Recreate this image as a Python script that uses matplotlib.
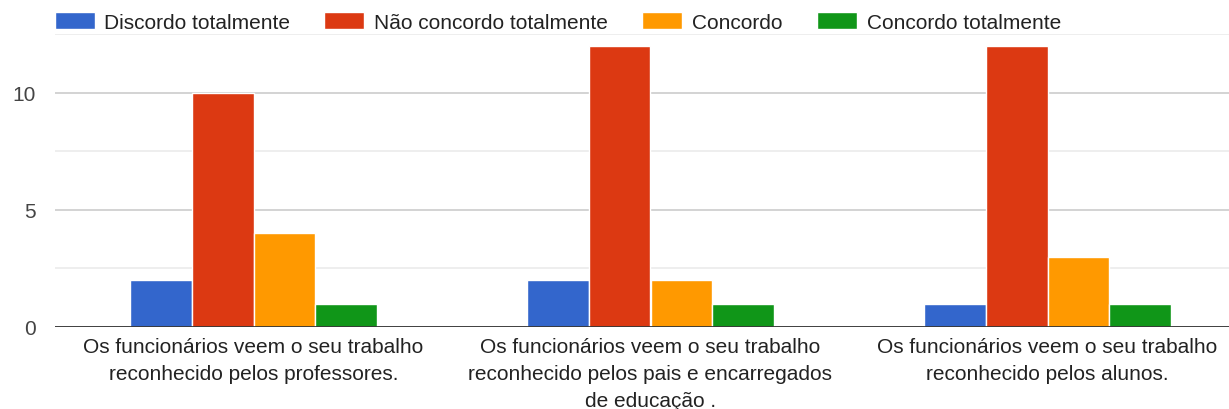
import matplotlib.pyplot as plt
import numpy as np

categories = [
    'Os funcionários veem o seu trabalho\nreconhecido pelos professores.',
    'Os funcionários veem o seu trabalho\nreconhecido pelos pais e encarregados\nde educação .',
    'Os funcionários veem o seu trabalho\nreconhecido pelos alunos.',
]
series_names = ['Discordo totalmente', 'Não concordo totalmente', 'Concordo', 'Concordo totalmente']
discordo_tot = [2, 2, 1]
nao_concordo_tot = [10, 12, 12]
concordo = [4, 2, 3]
concordo_tot = [1, 1, 1]
colors = ['#3366cc', '#dc3912', '#ff9900', '#109618']

plt.rcParams['font.family'] = ['Arial', 'Liberation Sans', 'DejaVu Sans']

fig = plt.figure(figsize=(12.29, 4.10), dpi=100)
ax = fig.add_axes([55 / 1229, 82 / 410, (1246 - 55) / 1229, 293 / 410])

x = np.arange(len(categories))
w = 0.155
all_series = [discordo_tot, nao_concordo_tot, concordo, concordo_tot]
for i, (vals, name, c) in enumerate(zip(all_series, series_names, colors)):
    ax.bar(x + (i - 1.5) * w, vals, w, color=c, edgecolor='white', linewidth=1,
           label=name, zorder=3)

ax.set_xlim(-0.5, 2.5)
ax.set_ylim(0, 12.5)
ax.set_yticks([0, 5, 10])
ax.set_yticks([2.5, 7.5, 12.5], minor=True)
ax.grid(axis='y', which='major', color='#cccccc', linewidth=1.2, zorder=0)
ax.grid(axis='y', which='minor', color='#ebebeb', linewidth=1.2, zorder=0)
ax.axhline(0, color='#333333', linewidth=2, zorder=4)
for s in ax.spines.values():
    s.set_visible(False)
ax.tick_params(axis='y', which='both', length=0, pad=14, labelsize=15, labelcolor='#444444')
ax.tick_params(axis='x', length=0, pad=7, labelsize=15, labelcolor='#222222')
ax.set_xticks(x)
ax.set_xticklabels(categories, linespacing=1.55)

fig.legend(loc='upper left', bbox_to_anchor=(42 / 1229, 1.0), ncol=4, frameon=False,
           fontsize=15, handlelength=1.92, handleheight=0.95, handletextpad=0.48,
           columnspacing=1.63, borderaxespad=0.2, labelcolor='#222222')

plt.savefig('out.png', dpi=100)
